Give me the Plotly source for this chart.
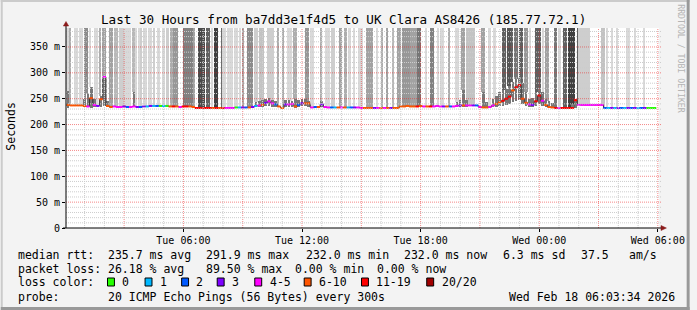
import plotly.graph_objects as go
from datetime import datetime, timedelta

# ---------------- data ----------------
T_START = datetime(2026, 2, 17, 0, 3, 34)
T_END = datetime(2026, 2, 18, 6, 3, 34)
BIN0 = datetime(2026, 2, 17, 0, 5, 0)   # first bin start
BIN_MINUTES = 10                         # median / loss-colour step
SAMPLE_MINUTES = 5                       # probe step (loss shading)

# median rtt per 10-minute bin (ms)
median_ms = [
    238, 237, 237, 237, 237, 236, 235, 251, 238, 236, 249, 291.9, 236,
    234, 235, 234, 234, 235, 234, 234,
    235, 234, 234, 235, 235,
    236, 236, 236, 236, 236, 236,
    235, 235, 235, 234, 235, 235, 235, 234,
    232, 232, 232, 232, 232, 232, 232, 232, 232, 232, 232, 232,
    233, 233, 233, 233, 233, 234,
    236, 237, 238, 242, 245, 241, 239, 235, 232, 239, 239, 240, 235, 238, 241, 241, 241, 233, 234, 234, 239, 234, 233,
    233, 233, 233, 233, 233, 233, 233, 233, 233,
    232, 232, 232, 232, 232, 232, 232, 232, 232, 232, 232, 232,
    235, 235, 236, 235, 235, 235, 236, 235, 235, 235, 235, 236, 235, 235, 235, 235, 235,
    236,
    237, 237, 237, 237, 237, 237,
    234, 233, 233, 234,
    237, 240, 243, 246, 250, 254, 266, 272, 276,
    250, 242, 239, 238, 245, 256, 246, 238, 234, 233,
    232, 232, 232, 232, 232, 232,
    247,
    238, 238, 238, 238, 238, 238, 238, 238,
    232, 232, 232, 232, 232, 232, 232, 232, 232, 232, 232, 232, 232, 232, 232, 232,
]

# lost pings (of 20) per 10-minute bin, as coloured on the median line
loss_pings = [
    6, 7, 6, 6, 6, 8, 4, 10, 5, 3, 6, 5, 6, 7, 5, 4, 4, 3, 2, 4,
    5, 3, 2, 3, 1, 3, 1, 2, 0, 1, 0, 9, 11, 9, 4, 11, 12, 10, 8, 13,
    17.9, 16, 12, 14, 8, 17, 10, 12, 4, 5, 4, 0, 1, 3, 2, 8, 3, 1, 5, 6,
    3, 4, 4, 2, 6, 6, 3, 4, 5, 8, 2, 3, 8, 6, 4, 2, 6, 3, 4, 4,
    2, 1, 6, 5, 6, 1, 2, 3, 4, 4, 6, 8, 8, 3, 4, 7, 4, 8, 3, 6,
    7, 8, 9, 9, 8, 9, 12, 6, 5, 6, 11, 5, 4, 4, 3, 6, 2, 4, 5, 3,
    7, 4, 5, 3, 2, 4, 7, 6, 5, 4, 6, 8, 13, 12, 14, 10, 11, 13, 6, 9,
    4, 3, 12, 11, 4, 8, 6, 10, 11, 5, 12, 13, 16, 17, 13, 4, 4, 4, 5, 4,
    4, 4, 5, 2, 1, 3, 1, 3, 2, 1, 3, 2, 3, 1, 2, 3, 0, 0, 0,
]

# loss smoke per 5-minute probe round: sample index and lost pings (others: none)
shade_sample = [
    0, 1, 2, 5, 6, 8, 9, 11, 12, 14, 17, 18, 20, 22, 23, 26, 27, 29, 30, 32, 33, 34, 35, 36, 37, 38,
    40, 41, 42, 44, 45, 47, 48, 50, 51, 53, 55, 56, 58, 59, 61, 63, 64, 65, 66, 67, 71, 72, 73, 74, 75, 76, 77,
    80, 81, 82, 83, 85, 86, 88, 90, 91, 94, 95, 96, 98, 99, 100, 102, 103, 105, 107, 110, 111, 112,
    114, 115, 117, 118, 119,
    122, 123, 124, 125, 128, 131, 134, 135, 136, 138, 139, 145, 146, 148, 149, 154, 157, 158, 159,
    161, 162, 166, 169, 171, 172, 174, 177, 178, 179, 182, 183, 184, 185, 188, 191, 194, 198, 201, 202,
    204, 205, 206, 207, 208, 209, 210, 211, 212, 213, 214, 218, 221, 222, 225, 227, 228, 232,
    236, 237, 240, 241, 243, 244, 245, 246, 247, 252, 253, 256, 257, 259, 260,
    265, 266, 268, 269, 270, 272, 273, 275, 276, 278, 279, 281, 285, 286, 287, 289, 291, 292,
    296, 297, 299, 302, 303, 305, 306, 307, 308, 310, 311, 312, 313, 314, 315, 316, 317,
    325, 326, 328, 331, 334, 340, 341, 345, 350,
]
shade_loss = [
    3, 3, 7, 3, 3, 3, 3, 10, 10, 3, 3, 3, 7, 8, 8, 8, 8, 6, 6, 4, 4, 4, 3, 3, 3, 3,
    6, 6, 3, 3, 4, 3, 3, 3, 3, 4, 3, 3, 3, 3, 4, 7, 7, 9, 9, 9, 11, 11, 11, 11, 11, 11, 8,
    16, 16, 16, 16, 14, 14, 3, 17, 17, 13, 3, 3, 3, 3, 3, 3, 3, 3, 7, 10, 10, 10,
    4, 4, 5, 5, 5,
    4, 4, 4, 4, 7, 7, 3, 3, 3, 7, 7, 9, 9, 3, 3, 7, 3, 3, 3,
    4, 4, 8, 7, 3, 3, 3, 3, 3, 3, 8, 8, 8, 8, 3, 7, 8, 6, 8, 8,
    9, 9, 9, 9, 9, 8, 8, 8, 8, 12, 12, 3, 11, 11, 3, 3, 3, 7,
    3, 3, 8, 8, 5, 5, 5, 5, 5, 8, 8, 3, 3, 3, 3,
    14, 14, 15, 15, 14, 12, 12, 14, 14, 9, 9, 3, 14, 14, 14, 3, 8, 8,
    12, 12, 3, 14, 14, 17, 17, 17, 17, 14, 4, 4, 4, 4, 4, 4, 4,
    5, 5, 3, 3, 3, 3, 3, 3, 3,
]

# rtt spread (smoke) where visible: 10-minute bin index, lowest and highest rtt (ms)
smoke_bin = [0, 5, 6, 7, 8, 10, 11, 12, 20, 57, 58, 59, 60, 61, 62, 63, 66, 67, 68, 69, 70, 71, 72, 73, 77,
             118, 119, 120, 121, 126, 127, 129, 130, 131, 132, 133, 134, 135, 136, 137, 138, 139, 140,
             141, 142, 143, 144, 145, 146, 147, 153, 154]
smoke_lo_ms = [232, 234, 233, 232, 233, 234, 236, 233, 233, 233, 234, 234, 235, 236, 234, 233, 233, 234, 233, 232, 233, 235, 235, 234, 233,
               233, 234, 234, 234, 232, 232, 233, 234, 235, 236, 238, 240, 243, 246, 247, 240, 236, 234,
               234, 236, 240, 236, 234, 232, 232, 231, 232]
smoke_hi_ms = [265, 250, 260, 272, 250, 256, 293, 245, 262, 243, 246, 247, 250, 251, 248, 246, 247, 248, 246, 250, 247, 250, 249, 246, 245,
               244, 248, 266, 247, 263, 244, 250, 256, 262, 266, 268, 275, 282, 288, 290, 280, 262, 250,
               252, 262, 270, 262, 250, 245, 242, 240, 250]

loss_labels = ["0", "1", "2", "3", "4-5", "6-10", "11-19", "20/20"]
loss_colors = ["#26ff00", "#00b8ff", "#0059ff", "#7e00ff", "#ff00ff", "#ff5500", "#ff0000", "#a10000"]
loss_upper = [0, 1, 2, 3, 5, 10, 19, 20]

y_tick_vals = [0, 0.05, 0.10, 0.15, 0.20, 0.25, 0.30, 0.35]
y_tick_text = ["0", "50 m", "100 m", "150 m", "200 m", "250 m", "300 m", "350 m"]
x_tick_vals = ["2026-02-17 06:00", "2026-02-17 12:00", "2026-02-17 18:00",
               "2026-02-18 00:00", "2026-02-18 06:00"]
x_tick_text = ["Tue 06:00", "Tue 12:00", "Tue 18:00", "Wed 00:00", "Wed 06:00"]

title_text = "Last 30 Hours from ba7dd3e1f4d5 to UK Clara AS8426 (185.77.72.1)"
stat_row1 = [(16, "median rtt:"), (107, "235.7 ms avg"), (207, "291.9 ms max"), (308, "232.0 ms min"),
             (407, "232.0 ms now"), (507, "6.3 ms sd"), (586, "37.5"), (635, "am/s")]
stat_row2 = [(16, "packet loss:"), (107, "26.18 % avg"), (207, "89.50 % max"), (297, "0.00 % min"),
             (380, "0.00 % now")]
probe_row = [(16, "probe:"), (107, "20 ICMP Echo Pings (56 Bytes) every 300s"),
             (513, "Wed Feb 18 06:03:34 2026")]

# ---------------- layout helpers ----------------
W, H = 697, 310
L, R, T, B = 66, 666, 28, 228
Y_TOP = 0.3867
MONO = "DejaVu Sans Mono"


def px(xp):
    return (xp - L) / (R - L)


def py(yp):
    return (B - yp) / (B - T)


def bucket(loss):
    n = round(loss)
    for k, up in enumerate(loss_upper):
        if n <= up:
            return k
    return len(loss_upper) - 1


def gray_for(loss):
    g = int(round(250 - 11 * loss))
    g = max(40, min(245, g))
    return f"rgb({g},{g},{g})"


n = len(median_ms)
step = timedelta(minutes=BIN_MINUTES)
sstep = timedelta(minutes=SAMPLE_MINUTES)
t_start = [BIN0 + step * i for i in range(n)]
t_end = [t + step for t in t_start]
t_mid = [t + step / 2 for t in t_start]
fmt = lambda t: t.strftime("%Y-%m-%d %H:%M:%S")

smoke_top = {b: hi for b, hi in zip(smoke_bin, smoke_hi_ms)}
ratio = BIN_MINUTES // SAMPLE_MINUTES

fig = go.Figure()

# loss smoke (from the highest answered ping up to the top)
sh_base = [max(median_ms[j // ratio], smoke_top.get(j // ratio, 0)) / 1000 for j in shade_sample]
fig.add_trace(go.Bar(
    x=[fmt(BIN0 + sstep * j + sstep / 2) for j in shade_sample], base=sh_base,
    y=[Y_TOP + 0.01 - b for b in sh_base], width=SAMPLE_MINUTES * 60000,
    marker=dict(color=[gray_for(v) for v in shade_loss], line=dict(width=0)),
    hoverinfo="skip"))

# rtt smoke
fig.add_trace(go.Bar(
    x=[fmt(t_mid[b]) for b in smoke_bin], base=[v / 1000 for v in smoke_lo_ms],
    y=[(hi - lo) / 1000 for lo, hi in zip(smoke_lo_ms, smoke_hi_ms)],
    width=BIN_MINUTES * 60000 * 0.8, marker=dict(color="#777777", line=dict(width=0)), hoverinfo="skip"))

# thin connector of the median
fig.add_trace(go.Scatter(
    x=[fmt(t) for t in t_start] + [fmt(t_end[-1])],
    y=[v / 1000 for v in median_ms] + [median_ms[-1] / 1000],
    mode="lines", line=dict(color="#333333", width=1, shape="hv"), hoverinfo="skip"))

# median coloured by loss
for k, col in enumerate(loss_colors):
    xs, ys = [], []
    for i in range(n):
        if bucket(loss_pings[i]) == k:
            xs += [fmt(t_start[i]), fmt(t_end[i]), None]
            ys += [median_ms[i] / 1000, median_ms[i] / 1000, None]
    if xs:
        fig.add_trace(go.Scatter(x=xs, y=ys, mode="lines", line=dict(color=col, width=2),
                                 hoverinfo="skip"))

shapes = []
GRAY = "#cdcdcd"
RED = "rgba(235,40,40,0.55)"
DASH = "1px,1px"
# vertical grid
for h in range(1, 31):
    t = datetime(2026, 2, 17) + timedelta(hours=h)
    shapes.append(dict(type="line", xref="x", yref="paper", x0=fmt(t), x1=fmt(t), y0=0, y1=1,
                       line=dict(color=RED if h % 3 == 0 else GRAY, width=1, dash=DASH), layer="above"))
# horizontal grid
for v in range(10, 390, 10):
    shapes.append(dict(type="line", xref="paper", yref="y", x0=0, x1=px(669), y0=v / 1000, y1=v / 1000,
                       line=dict(color=RED if v % 50 == 0 else GRAY, width=1, dash=DASH), layer="above"))
# axes and arrows
shapes.append(dict(type="line", xref="paper", yref="paper", x0=px(L - 3), x1=px(670), y0=0, y1=0,
                   line=dict(color="#000", width=1), layer="above"))
shapes.append(dict(type="line", xref="paper", yref="paper", x0=0, x1=0, y0=0, y1=py(24),
                   line=dict(color="#000", width=1), layer="above"))
ARROW = "#8b1a1a"
shapes.append(dict(type="path", xref="paper", yref="paper", layer="above",
                   path=f"M {px(668)} {py(225.5)} L {px(673.5)} {py(228)} L {px(668)} {py(230.5)} Z",
                   fillcolor=ARROW, line=dict(color=ARROW, width=0.5)))
shapes.append(dict(type="path", xref="paper", yref="paper", layer="above",
                   path=f"M {px(63.3)} {py(26)} L {px(66)} {py(21.5)} L {px(68.7)} {py(26)} Z",
                   fillcolor=ARROW, line=dict(color=ARROW, width=0.5)))
# frame
shapes.append(dict(type="rect", xref="paper", yref="paper", x0=px(0), x1=px(W), y0=py(0), y1=py(2),
                   fillcolor="#cbcbcb", line=dict(width=0), layer="above"))
shapes.append(dict(type="rect", xref="paper", yref="paper", x0=px(0), x1=px(2), y0=py(0), y1=py(H),
                   fillcolor="#cbcbcb", line=dict(width=0), layer="above"))
shapes.append(dict(type="rect", xref="paper", yref="paper", x0=px(0), x1=px(W), y0=py(H - 3), y1=py(H),
                   fillcolor="#999999", line=dict(width=0), layer="above"))
shapes.append(dict(type="rect", xref="paper", yref="paper", x0=px(W - 3), x1=px(W), y0=py(0), y1=py(H),
                   fillcolor="#999999", line=dict(width=0), layer="above"))

annotations = []


def text(xp, yp, s, size=11.5, color="#000", anchor="left", angle=0):
    annotations.append(dict(x=px(xp), y=py(yp), xref="paper", yref="paper", text=s, showarrow=False,
                            xanchor=anchor, yanchor="middle", textangle=angle, borderpad=0,
                            font=dict(family=MONO, size=size, color=color)))


text(347, 19, title_text, size=12.6, anchor="center")
text(10, 127, "Seconds", size=11.5, anchor="center", angle=-90)
text(688, 59, "RRDTOOL / TOBI OETIKER", size=8.2, color="#b4b4b4", anchor="center", angle=90)
for xp, s in stat_row1:
    text(xp, 255, s)
for xp, s in stat_row2:
    text(xp, 268.5, s)
text(16, 282, "loss color:")
box_x = [108, 146, 183, 219, 257, 307, 365, 431]
for bx, lab, col in zip(box_x, loss_labels, loss_colors):
    shapes.append(dict(type="rect", xref="paper", yref="paper", x0=px(bx), x1=px(bx + 7),
                       y0=py(278), y1=py(286), fillcolor=col, line=dict(color="#000", width=1)))
    text(bx + 14, 282, lab)
for xp, s in probe_row:
    text(xp, 296.5, s)

fig.update_layout(
    width=W, height=H, autosize=False,
    margin=dict(l=L, r=W - R, t=T, b=H - B, pad=0),
    paper_bgcolor="#f3f3f3", plot_bgcolor="#ffffff",
    showlegend=False, barmode="overlay", bargap=0,
    font=dict(family=MONO, size=10, color="#000"),
    xaxis=dict(type="date", range=[fmt(T_START), fmt(T_END)], tickvals=x_tick_vals, ticktext=x_tick_text,
               showgrid=False, zeroline=False, showline=False, ticks="outside", ticklen=3,
               tickcolor="#000", tickfont=dict(family=MONO, size=10), fixedrange=True),
    yaxis=dict(range=[0, Y_TOP], tickvals=y_tick_vals, ticktext=y_tick_text, showgrid=False,
               zeroline=False, showline=False, ticks="outside", ticklen=3, tickcolor="#000",
               tickfont=dict(family=MONO, size=10), fixedrange=True),
    shapes=shapes, annotations=annotations,
)

fig.write_html("out.html", config={"displayModeBar": False})
